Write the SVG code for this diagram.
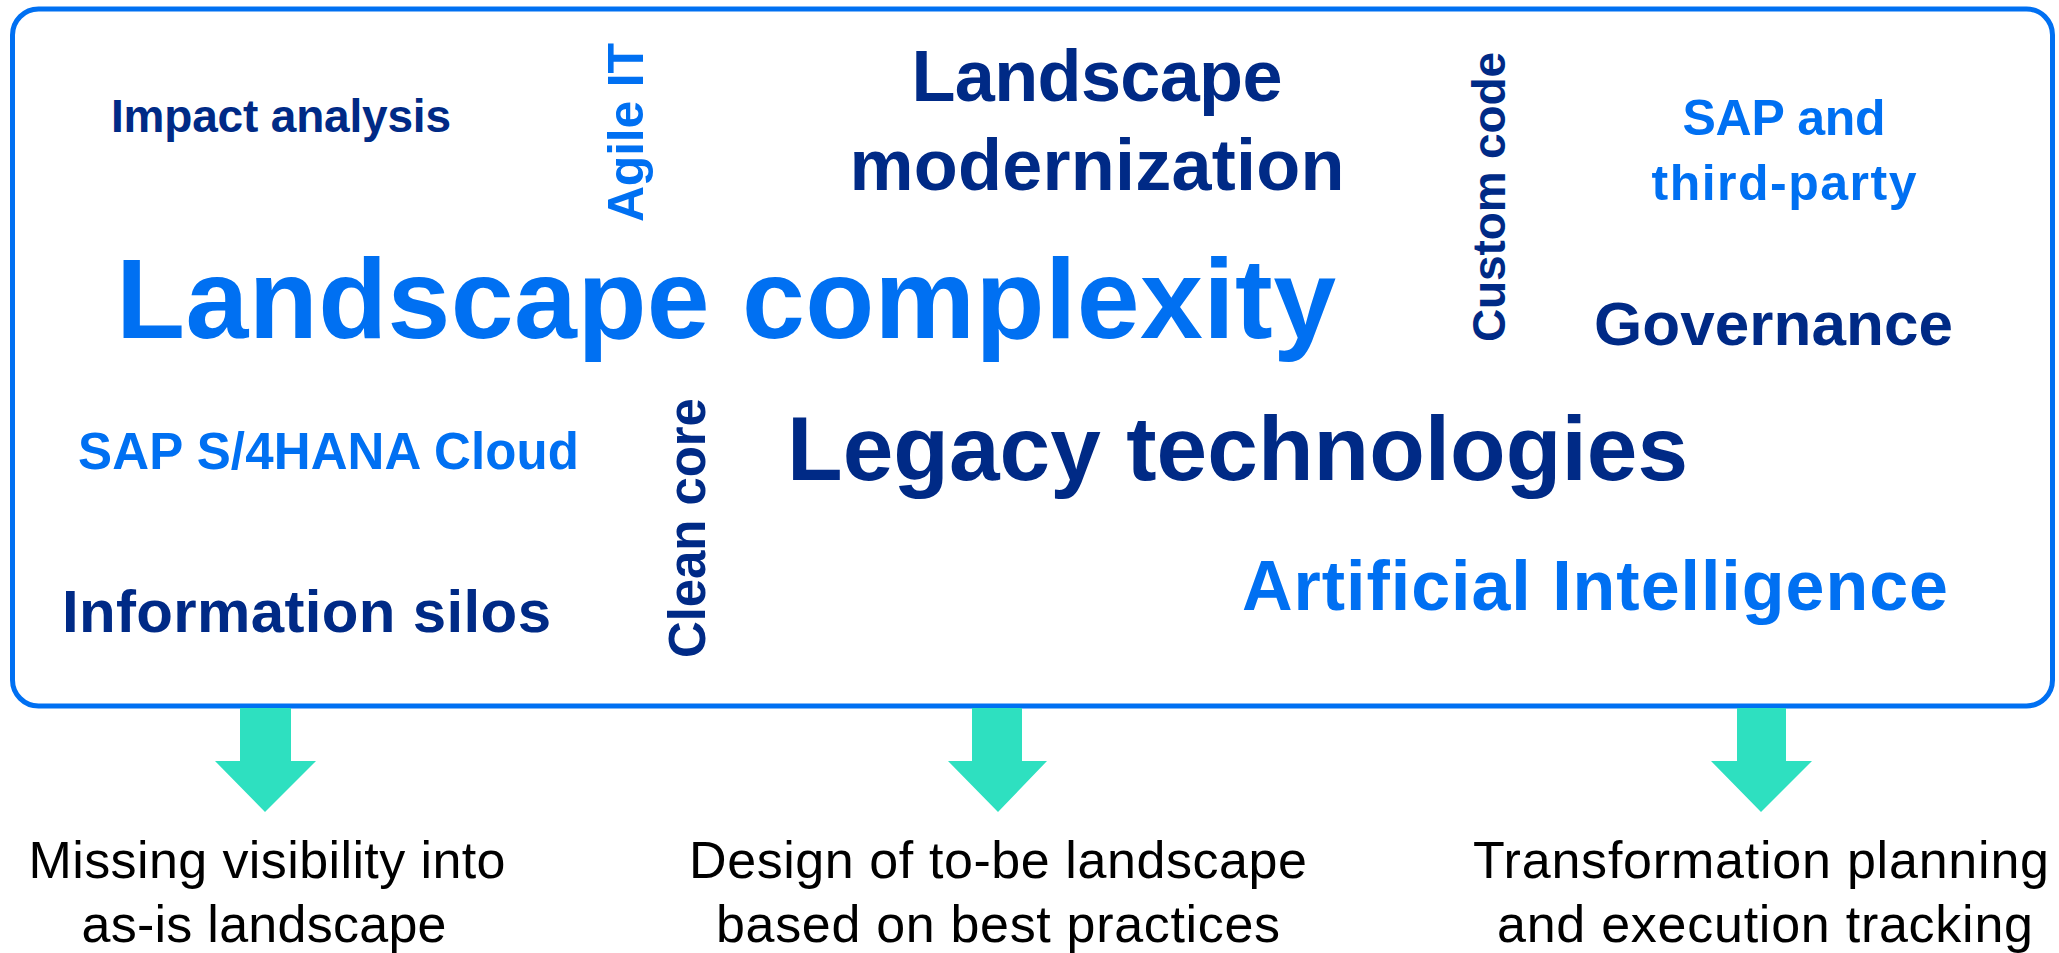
<svg xmlns="http://www.w3.org/2000/svg" width="2059" height="953" viewBox="0 0 2059 953">
<style>
.k{font-family:"Liberation Sans",Arial,sans-serif;font-weight:700}
.d{fill:#002A86}
.b{fill:#0070F2}
.o{font-family:"Liberation Sans",Arial,sans-serif;font-weight:400;fill:#000;font-size:52px;text-anchor:middle}
.arr{fill:#2EE0C0}
</style>
<rect width="2059" height="953" fill="#fff"/>
<g id="frame">
<rect x="12.5" y="9" width="2040" height="697" rx="26" ry="26" fill="#fff" stroke="#0070F2" stroke-width="5"/>
</g>
<g id="keywords">
<text id="impact" class="k d" x="111" y="132" font-size="46" textLength="340">Impact analysis</text>
<text id="agile" class="k b" font-size="50" textLength="179" transform="translate(643,222) rotate(-90)">Agile IT</text>
<g id="modern" class="k d" font-size="72" text-anchor="middle">
<text x="1097" y="101" textLength="371">Landscape</text>
<text x="1097" y="190" textLength="495">modernization</text>
</g>
<text id="custom" class="k d" font-size="46" textLength="290" transform="translate(1505,342) rotate(-90)">Custom code</text>
<g id="sap3p" class="k b" font-size="50" text-anchor="middle">
<text x="1784" y="135" textLength="203">SAP and</text>
<text x="1784" y="200" textLength="265">third-party</text>
</g>
<text id="complexity" class="k b" x="116" y="338" font-size="113" textLength="1220">Landscape complexity</text>
<text id="governance" class="k d" x="1594" y="345" font-size="62" textLength="359">Governance</text>
<text id="s4" class="k b" x="78" y="469" font-size="51" textLength="501">SAP S/4HANA Cloud</text>
<text id="clean" class="k d" font-size="51" textLength="260" transform="translate(705,658) rotate(-90)">Clean core</text>
<text id="legacy" class="k d" x="787" y="480" font-size="91" textLength="901">Legacy technologies</text>
<text id="silos" class="k d" x="62" y="632" font-size="60" textLength="489">Information silos</text>
<text id="ai" class="k b" x="1242" y="610" font-size="70" textLength="706">Artificial Intelligence</text>
</g>
<g id="connectors">
<polygon class="arr" points="240,708 291,708 291,761 316,761 265,812 215,761 240,761"/>
<polygon class="arr" points="972,708 1022,708 1022,761 1047,761 998,812 948,761 972,761"/>
<polygon class="arr" points="1737,708 1786,708 1786,761 1812,761 1761,812 1711,761 1737,761"/>
</g>
<g id="out1">
<text class="o" x="267" y="878" textLength="477">Missing visibility into</text>
<text class="o" x="264" y="942" textLength="365">as-is landscape</text>
</g>
<g id="out2">
<text class="o" x="998" y="878" textLength="618">Design of to-be landscape</text>
<text class="o" x="998" y="942" textLength="564">based on best practices</text>
</g>
<g id="out3">
<text class="o" x="1761" y="878" textLength="576">Transformation planning</text>
<text class="o" x="1765" y="942" textLength="536">and execution tracking</text>
</g>
</svg>
